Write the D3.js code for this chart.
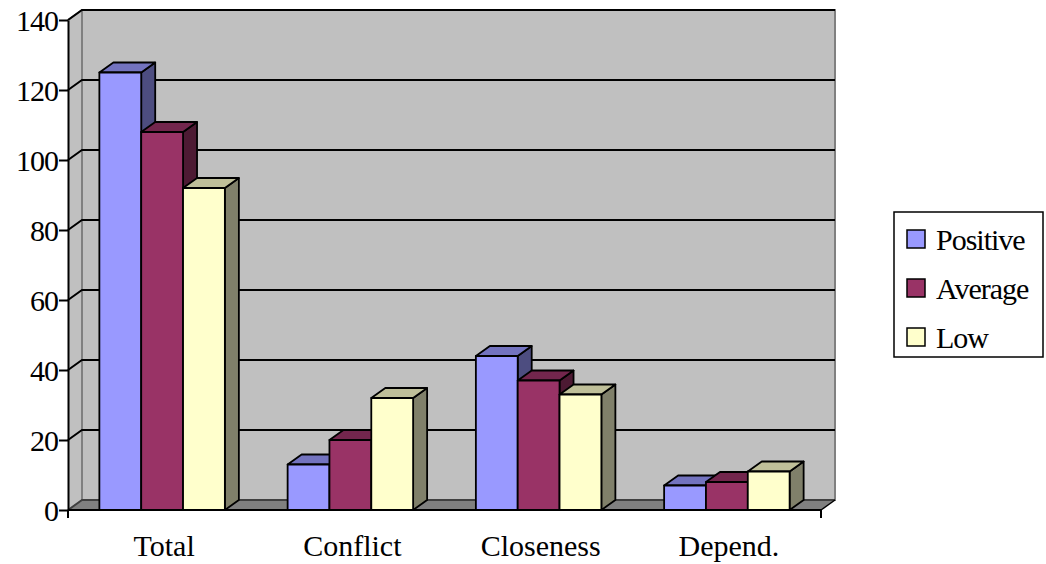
<!DOCTYPE html>
<html>
<head>
<meta charset="utf-8">
<script src="https://cdn.jsdelivr.net/npm/d3@7"></script>
</head>
<body style="margin:0">
<script>
const categories = ["Total", "Conflict", "Closeness", "Depend."];
const series = ["Positive", "Average", "Low"];
const positive = [125, 13, 44, 7];
const average = [108, 20, 37, 8];
const low = [92, 32, 33, 11];
const yTicks = [0, 20, 40, 60, 80, 100, 120, 140];

const values = [positive, average, low];
const fronts = ["#9999ff", "#993366", "#ffffcc"];
const tops = ["#7373bf", "#73264d", "#bfbf99"];
const sides = ["#4d4d80", "#4d1a33", "#80806a"];

const serifFont = '"Liberation Serif"';
const dx = 14, dy = 10;
const plotLeft = 68, plotRight = 821, plotBottom = 510, plotTop = 20;

let svg = d3.select("body")
    .append("svg")
    .attr("width", 1046)
    .attr("height", 564);

let x = d3.scaleBand()
    .domain(categories)
    .range([plotLeft, plotRight])
    .paddingInner(1 / 3)
    .paddingOuter(1 / 6);

let xs = d3.scaleBand()
    .domain(series)
    .range([0, x.bandwidth()]);

let y = d3.scaleLinear()
    .domain([0, 140])
    .range([plotBottom, plotTop]);

// side wall
svg.append("polygon")
    .attr("points", [[plotLeft, plotBottom], [plotLeft, plotTop], [plotLeft + dx, plotTop - dy], [plotLeft + dx, plotBottom - dy]].join(" "))
    .attr("fill", "#c0c0c0");
// back wall
svg.append("rect")
    .attr("x", plotLeft + dx)
    .attr("y", plotTop - dy)
    .attr("width", plotRight - plotLeft)
    .attr("height", plotBottom - plotTop)
    .attr("fill", "#c0c0c0")
    .attr("stroke", "#808080")
    .attr("stroke-width", 2);
svg.append("line")
    .attr("x1", plotLeft).attr("y1", plotTop)
    .attr("x2", plotLeft + dx).attr("y2", plotTop - dy)
    .attr("stroke", "#808080").attr("stroke-width", 2);
// floor
svg.append("polygon")
    .attr("points", [[plotLeft, plotBottom], [plotRight, plotBottom], [plotRight + dx, plotBottom - dy], [plotLeft + dx, plotBottom - dy]].join(" "))
    .attr("fill", "#808080");

// gridlines on back wall and side wall
svg.selectAll(".grid")
    .data(yTicks)
    .enter()
    .append("polyline")
    .attr("class", "grid")
    .attr("points", d => [[plotLeft, y(d)], [plotLeft + dx, y(d) - dy], [plotRight + dx, y(d) - dy]].join(" "))
    .attr("fill", "none")
    .attr("stroke", d => d == 0 ? "#404040" : "#000")
    .attr("stroke-width", 2);

// y axis
let yAxis = svg.append("g")
    .attr("transform", `translate(${plotLeft},0)`)
    .call(d3.axisLeft(y).tickValues(yTicks).tickSize(9).tickPadding(1).tickSizeOuter(0));
yAxis.attr("font-family", null).attr("font-size", null);
yAxis.select(".domain").attr("stroke", "#000").attr("stroke-width", 2);
yAxis.selectAll(".tick line").attr("stroke", "#000").attr("stroke-width", 2);
yAxis.selectAll(".tick text")
    .style("font-family", serifFont)
    .attr("font-size", 30)
    .attr("fill", "#000")
    .attr("dy", "0.36em")
    .style("letter-spacing", "-1px");

// x axis line and end ticks
svg.append("line")
    .attr("x1", plotLeft).attr("y1", plotBottom)
    .attr("x2", plotRight).attr("y2", plotBottom)
    .attr("stroke", "#000").attr("stroke-width", 2);
svg.append("line")
    .attr("x1", plotRight).attr("y1", plotBottom)
    .attr("x2", plotRight + dx).attr("y2", plotBottom - dy)
    .attr("stroke", "#000").attr("stroke-width", 1.5);
svg.selectAll(".xtick")
    .data([plotLeft, plotRight])
    .enter()
    .append("line")
    .attr("class", "xtick")
    .attr("x1", d => d).attr("x2", d => d)
    .attr("y1", plotBottom).attr("y2", plotBottom + 8)
    .attr("stroke", "#000").attr("stroke-width", 2);

svg.selectAll(".xlabel")
    .data(categories)
    .enter()
    .append("text")
    .attr("class", "xlabel")
    .attr("x", d => x(d) + x.bandwidth() / 2 + 2)
    .attr("y", 556)
    .attr("text-anchor", "middle")
    .style("font-family", serifFont)
    .attr("font-size", 30)
    .text(d => d);

// bars
categories.forEach((c, ci) => {
    series.forEach((s, si) => {
        let v = values[si][ci];
        let x0 = x(c) + xs(s), x1 = x0 + xs.bandwidth();
        let yv = y(v);
        let g = svg.append("g");
        g.append("polygon")
            .attr("points", [[x1, yv], [x1 + dx, yv - dy], [x1 + dx, plotBottom - dy], [x1, plotBottom]].join(" "))
            .attr("fill", sides[si]);
        g.append("polygon")
            .attr("points", [[x0, yv], [x1, yv], [x1 + dx, yv - dy], [x0 + dx, yv - dy]].join(" "))
            .attr("fill", tops[si]);
        g.append("rect")
            .attr("x", x0).attr("y", yv)
            .attr("width", x1 - x0).attr("height", plotBottom - yv)
            .attr("fill", fronts[si]);
        g.selectAll("*")
            .attr("stroke", "#000")
            .attr("stroke-width", 1.8)
            .attr("stroke-linejoin", "round");
    });
});

// legend
let legend = svg.append("g");
legend.append("rect")
    .attr("x", 894).attr("y", 212)
    .attr("width", 149).attr("height", 145)
    .attr("fill", "#fff")
    .attr("stroke", "#000")
    .attr("stroke-width", 1.5);
let item = legend.selectAll(".item")
    .data(series)
    .enter()
    .append("g")
    .attr("class", "item")
    .attr("transform", (d, i) => `translate(907,${239 + i * 49})`);
item.append("rect")
    .attr("x", 0).attr("y", -9)
    .attr("width", 18).attr("height", 18)
    .attr("fill", (d, i) => fronts[i])
    .attr("stroke", "#000")
    .attr("stroke-width", 1.5);
item.append("text")
    .attr("x", 29)
    .attr("y", 11)
    .style("font-family", serifFont)
    .attr("font-size", 30)
    .style("letter-spacing", "-1px")
    .text(d => d);
</script>
</body>
</html>
